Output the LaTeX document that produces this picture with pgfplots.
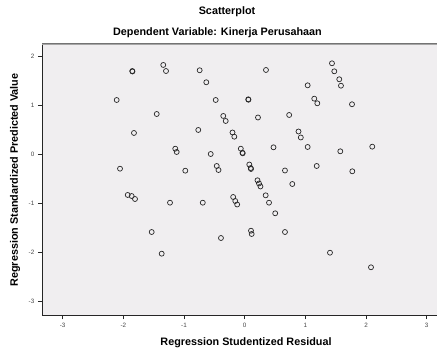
\documentclass[border=0pt]{standalone}
\usepackage{pgfplots}
\pgfplotsset{compat=1.18}
\usepackage{fontspec}
\setmainfont{Liberation Sans}
\definecolor{bgc}{RGB}{240,238,240}
\definecolor{tickc}{RGB}{70,70,70}
\begin{document}
\begin{tikzpicture}
\path[use as bounding box] (-42.3pt,-36pt) rectangle (394.7pt,315pt);
\begin{axis}[
  at={(0pt,0pt)}, anchor=south west,
  scale only axis, width=394.7pt, height=271.7pt,
  xmin=-3.336, xmax=3.17, ymin=-3.271, ymax=2.259,
  axis x line*=bottom, axis y line*=left,
  axis line style={line width=0.9pt, black!85},
  xtick={-3,-2,-1,0,1,2,3}, ytick={-3,-2,-1,0,1,2},
  tick align=outside, major tick length=4.5pt,
  tick style={line width=0.7pt, black!85},
  /pgf/number format/assume math mode=true,
  ticklabel style={font=\fontsize{6.3}{7}\selectfont, text=tickc},
  xticklabel style={yshift=-0.5pt},
  axis background/.style={fill=bgc},
  clip=false,
]
\draw[black!55, line width=0.6pt] (rel axis cs:0,1) -- (rel axis cs:1,1);
\draw[black!35, line width=0.5pt] ([yshift=-1.2pt]rel axis cs:0,1) -- ([yshift=-1.2pt]rel axis cs:1,1);
\addplot[only marks, mark=o, mark size=2.5pt, mark options={line width=0.7pt, draw=black!85}] coordinates {
(-1.853,1.695) (-1.850,1.685) (-1.342,1.818) (-1.297,1.695) (-0.742,1.710) (-0.633,1.466)
(-2.110,1.105) (-0.478,1.105) (-1.450,0.820) (-0.353,0.780) (-0.313,0.678)
(-1.825,0.434) (-0.765,0.495) (-1.144,0.114) (-1.121,0.047) (-0.560,0.006)
(-2.055,-0.293) (-0.979,-0.334) (-0.461,-0.238) (-0.432,-0.320)
(0.351,1.716) (1.439,1.852) (1.477,1.689) (1.559,1.527) (1.587,1.396) (1.038,1.404)
(0.059,1.119) (0.062,1.110) (1.147,1.132) (1.197,1.038) (1.769,1.018)
(0.219,0.749) (0.733,0.800) (-0.201,0.444) (-0.171,0.358) (0.887,0.464) (0.925,0.342)
(-0.064,0.114) (-0.036,0.031) (-0.033,0.020) (0.475,0.142) (1.038,0.149) (2.103,0.155) (1.576,0.061)
(0.076,-0.208) (0.104,-0.299) (0.100,-0.280) (1.187,-0.238) (0.664,-0.330) (1.774,-0.346)
(0.211,-0.529) (0.236,-0.594) (0.260,-0.655) (0.785,-0.605)
(-1.928,-0.828) (-1.863,-0.849) (-1.808,-0.910) (-1.231,-0.985) (-0.691,-0.985)
(-1.533,-1.582) (-0.391,-1.704) (-1.368,-2.023)
(-0.190,-0.869) (-0.155,-0.951) (-0.124,-1.022) (0.346,-0.835) (0.401,-0.985) (0.503,-1.201)
(0.104,-1.555) (0.115,-1.622) (0.664,-1.582) (1.406,-2.003) (2.082,-2.300)
};
\end{axis}
\node[font=\bfseries\fontsize{10.8}{12}\selectfont] at (184.7pt,303pt) {Scatterplot};
\node[font=\bfseries\fontsize{10.8}{12}\selectfont] at (175.2pt,282pt) {Dependent Variable: Kinerja Perusahaan};
\node[font=\bfseries\fontsize{10.8}{12}\selectfont] at (203.7pt,-28pt) {Regression Studentized Residual};
\node[font=\bfseries\fontsize{10.8}{12}\selectfont, rotate=90] at (-27.3pt,135pt) {Regression Standardized Predicted Value};
\end{tikzpicture}
\end{document}
